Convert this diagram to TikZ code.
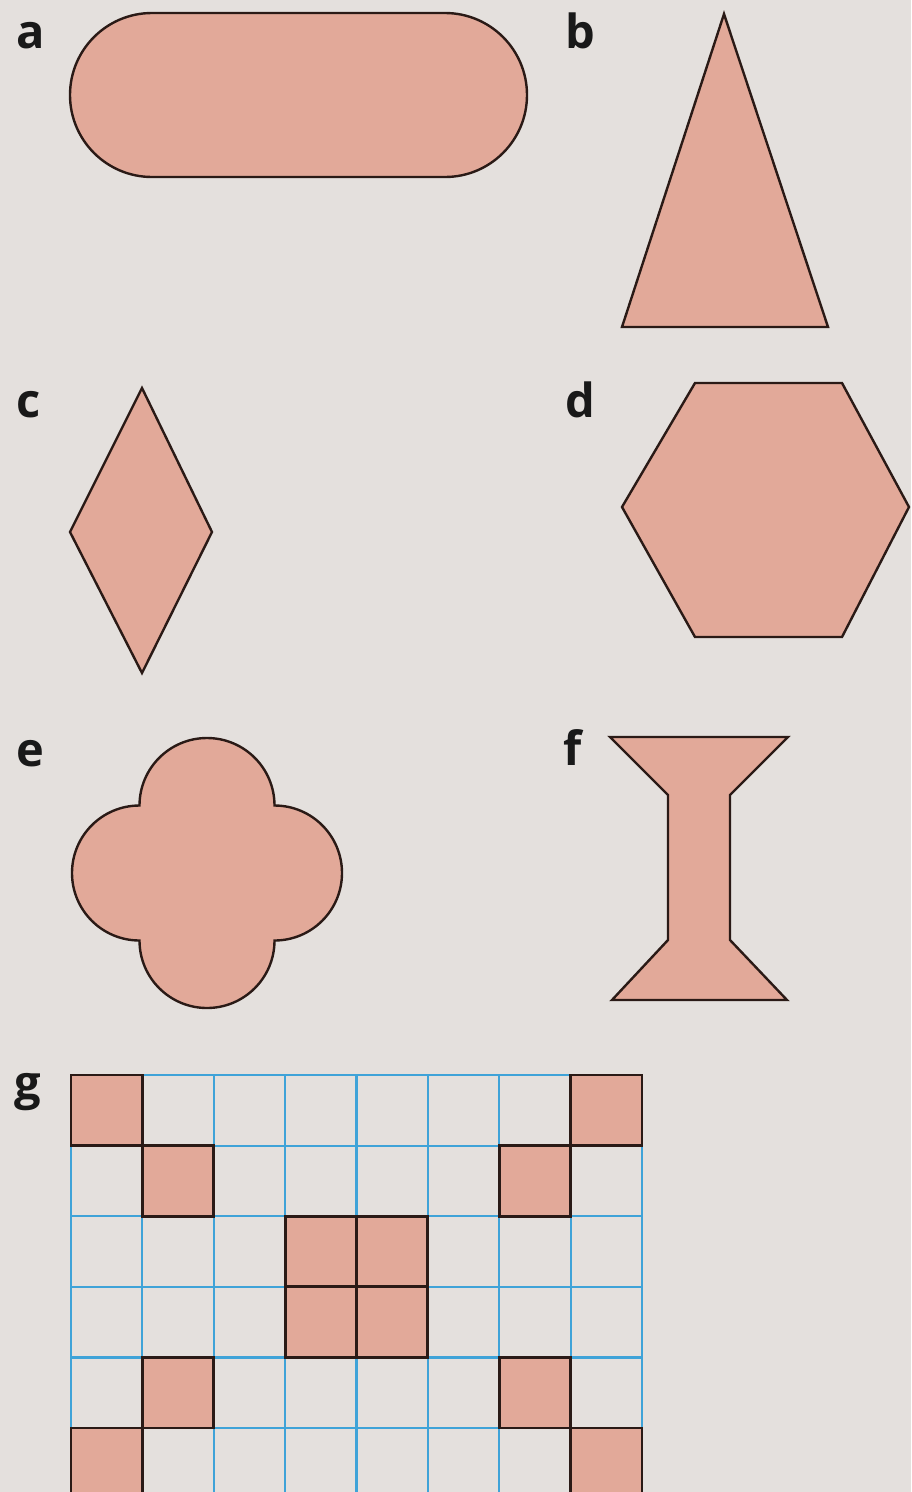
\documentclass[tikz,border=0pt]{standalone}
\usepackage{fontspec}
\setmainfont{Open Sans}
\definecolor{bgc}{HTML}{E4E0DD}
\definecolor{fillc}{HTML}{E2A999}
\definecolor{linec}{HTML}{2A1A16}
\definecolor{gridc}{HTML}{3FA3D8}
\tikzset{
  shapebox/.style={fill=fillc, draw=linec, line width=2.4pt, line join=miter},
  lbl/.style={anchor=base west, inner sep=0pt, font=\fontsize{47}{49}\selectfont\bfseries, text=black!90},
  gridline/.style={draw=gridc, line width=2.2pt},
  cellbox/.style={fill=fillc, draw=linec, line width=2.8pt}
}
\begin{document}
\begin{tikzpicture}[x=1pt,y=-1pt]
\useasboundingbox (0,0) rectangle (911,1492);
\clip (0,0) rectangle (911,1492);
\fill[bgc] (0,0) rectangle (911,1492);
% labels
\node[lbl] (la) at (16,48) {a};
\node[lbl] (lb) at (565,48) {b};
\node[lbl] (lc) at (16,417) {c};
\node[lbl] (ld) at (565,417) {d};
\node[lbl] (le) at (16,766) {e};
\node[lbl] (lf) at (563,765) {f};
\node[lbl] (lg) at (14,1099) {g};
% a: stadium
\draw[shapebox, rounded corners=82pt] (70,13) rectangle (527,177);
% b: triangle
\draw[shapebox] (724,14) -- (828,327) -- (622,327) -- cycle;
% c: rhombus
\draw[shapebox] (142,388) -- (212,532) -- (142,673) -- (70,532) -- cycle;
% d: hexagon
\draw[shapebox] (695,383) -- (842,383) -- (909,507) -- (842,637) -- (695,637) -- (622,507) -- cycle;
% e: quatrefoil
\begin{scope}[shift={(207,873)}, x=1pt, y=1pt]
\draw[shapebox] (67.5,67.5) arc[start angle=0, end angle=180, radius=67.5]
  arc[start angle=90, end angle=270, radius=67.5]
  arc[start angle=180, end angle=360, radius=67.5]
  arc[start angle=270, end angle=450, radius=67.5] -- cycle;
\end{scope}
% f: spool
\draw[shapebox] (610,737) -- (788,737) -- (730,795) -- (730,940) -- (787,1000)
  -- (612,1000) -- (668,940) -- (668,795) -- cycle;
% g: grid
\foreach \i in {0,...,8} {
  \pgfmathsetmacro{\xx}{71+71.375*\i}
  \draw[gridline] (\xx,1075) -- (\xx,1500);
}
\foreach \j in {0,...,6} {
  \pgfmathsetmacro{\yy}{1075+70.6*\j}
  \draw[gridline] (71,\yy) -- (642,\yy);
}
\foreach \r/\c in {0/0,0/7,1/1,1/6,2/3,2/4,3/3,3/4,4/1,4/6,5/0,5/7} {
  \pgfmathsetmacro{\xa}{71+71.375*\c}
  \pgfmathsetmacro{\ya}{1075+70.6*\r}
  \pgfmathsetmacro{\xb}{\xa+71.375}
  \pgfmathsetmacro{\yb}{\ya+70.6}
  \draw[cellbox] (\xa,\ya) rectangle (\xb,\yb);
}
\end{tikzpicture}
\end{document}
